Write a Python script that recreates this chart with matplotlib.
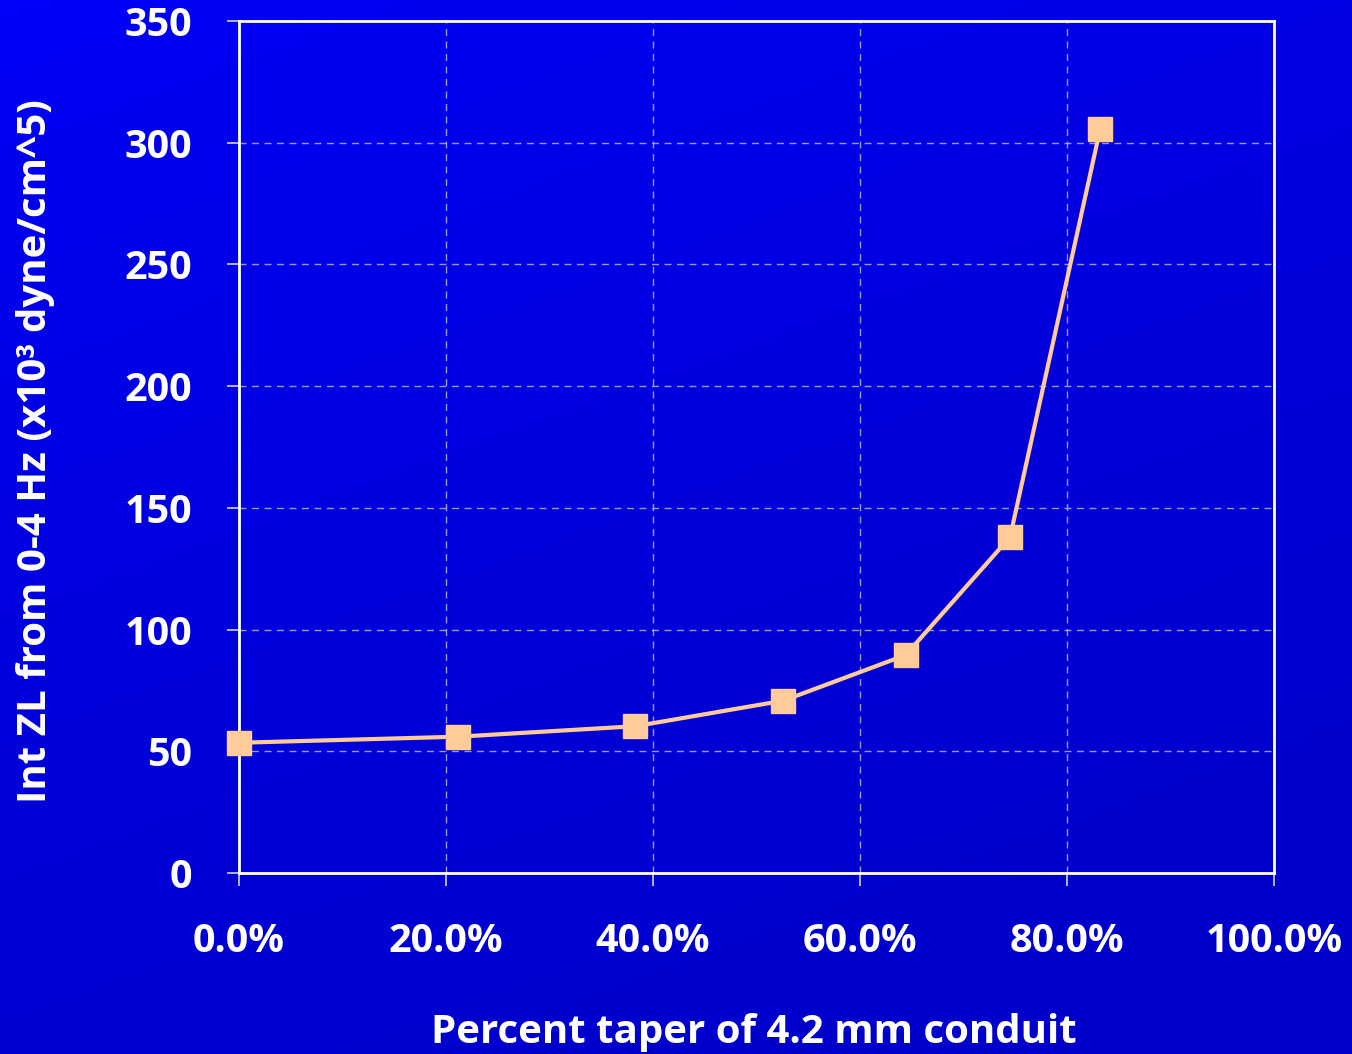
import numpy as np
import matplotlib
matplotlib.use("Agg")
import matplotlib.pyplot as plt
from matplotlib.ticker import FuncFormatter

# Taper percentage of the 4.2 mm conduit and integrated impedance
taper_pct = [0.0, 21.2, 38.3, 52.6, 64.4, 74.5, 83.2]
int_zl = [53.5, 56.0, 60.3, 70.8, 89.5, 138.0, 305.5]

x_ticks = [0, 20, 40, 60, 80, 100]
y_ticks = [0, 50, 100, 150, 200, 250, 300, 350]

FONT = ["Open Sans", "DejaVu Sans"]
plt.rcParams["font.family"] = FONT
plt.rcParams["font.weight"] = "bold"

fig = plt.figure(figsize=(13.52, 10.54), dpi=100)

# blue gradient backdrop
bg = fig.add_axes([0, 0, 1, 1], zorder=-10)
yy, xx = np.mgrid[0:1:200j, 0:1:200j]
t = np.clip(0.75 * yy + 0.35 * xx, 0, 1) ** 0.7
rgb = np.zeros((200, 200, 3))
rgb[..., 2] = (252 - 50 * t) / 255.0
bg.imshow(rgb, extent=[0, 1, 0, 1], aspect="auto", origin="upper")
bg.axis("off")

ax = fig.add_axes([239 / 1352, 1 - 873 / 1054, 1035 / 1352, 852 / 1054])
ax.patch.set_alpha(0)

ax.plot(taper_pct, int_zl, color="#FFCC99", lw=3, marker="s", ms=17,
        mfc="#FFCC99", mec="#FFCC99", zorder=5, clip_on=False)

ax.set_xlim(0, 100)
ax.set_ylim(0, 350)
ax.set_xticks(x_ticks)
ax.set_yticks(y_ticks)
ax.xaxis.set_major_formatter(FuncFormatter(lambda v, p: f"{v:.1f}%"))

ax.grid(True, color="#B4B4E6", linestyle=(0, (5, 4)), linewidth=1.0, alpha=0.85)
ax.set_axisbelow(True)

for s in ax.spines.values():
    s.set_color("white")
    s.set_linewidth(2)

ax.tick_params(axis="both", direction="out", length=9, width=1.2, color="#D0D0F0",
               labelcolor="white", labelsize=28.5)
ax.tick_params(axis="x", pad=26)
ax.tick_params(axis="y", pad=25)
for lbl in ax.get_xticklabels() + ax.get_yticklabels():
    lbl.set_fontweight("bold")

fig.text(754 / 1352, 1 - 1033 / 1054, "Percent taper of 4.2 mm conduit",
         ha="center", va="center", color="white", fontsize=29, fontweight="bold")
fig.text(36 / 1352, 1 - 451 / 1054, "Int ZL from 0-4 Hz (x10³ dyne/cm^5)",
         ha="center", va="center", rotation=90, color="white", fontsize=29,
         fontweight="bold")

fig.savefig("out.png", dpi=100)
